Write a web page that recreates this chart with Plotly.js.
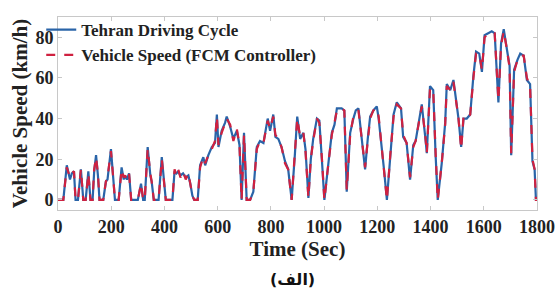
<!DOCTYPE html>
<html>
<head>
<meta charset="utf-8">
<script src="https://cdn.plot.ly/plotly-3.0.1.min.js"></script>
<style>html,body{margin:0;padding:0;background:#fff;}#chart{width:558px;height:294px;}</style>
</head>
<body>
<div id="chart"></div>
<script>
// Time (s)
var timeSec = [0,20,33,45,52,60,66,75,86,95,104,114,122,130,136,143,150,156,170,180,186,199,208,214,228,239,247,252,259,267,275,300,312,320,326,337,347,352,360,378,390,398,405,430,438,445,452,460,470,480,490,497,505,512,525,534,546,553,565,578,590,597,603,615,628,634,647,659,672,682,690,699,709,722,734,747,759,772,788,797,809,817,828,840,853,865,878,890,899,910,922,930,941,950,959,973,982,992,1001,1017,1029,1039,1048,1066,1076,1085,1098,1110,1119,1129,1141,1154,1164,1173,1185,1198,1205,1211,1225,1236,1248,1261,1273,1289,1297,1310,1323,1335,1344,1355,1367,1380,1386,1398,1410,1419,1427,1442,1455,1461,1474,1486,1499,1505,1515,1524,1536,1549,1561,1571,1583,1593,1603,1618,1630,1641,1649,1655,1665,1675,1687,1697,1703,1714,1727,1737,1750,1762,1774,1783,1791,1796,1800];
// Tehran driving cycle speed (km/h)
var tehranSpeed = [0,0,17,10,13,14,0,0,15,0,0,14,0,0,14,22,12,0,0,9,10,25,10,0,0,16,10,12,10,13,0,0,8,0,0,26,12,9,0,0,21,8,0,0,14,13,14,12,13,11,12,8,2,0,0,17,21,17,22,26,28,42,26,34,38,41,36,30,34,27,0,33,0,0,4,26,29,28,40,34,42,31,30,26,19,15,0,22,41,30,33,25,1,20,30,40,39,19,0,19,33,37,45,45,44,4,33,40,44,45,30,15,30,41,44,46,40,33,15,0,22,42,48,45,31,28,10,27,29,38,47,31,23,56,54,22,0,18,38,57,54,59,45,40,26,40,40,42,61,73,72,63,81,82,83,82,62,48,77,84,74,66,22,64,69,72,71,59,57,19,15,0,0];
// Vehicle speed with FCM controller (km/h)
var fcmSpeed = [0,0,16,11,13,14,0,0,15,0,0,13,0,0,15,21,13,0,0,9,11,24,10,0,0,15,11,12,10,13,0,0,8,0,0,25,13,9,0,0,20,8,0,0,15,12,15,11,14,10,13,8,2,0,0,16,21,18,22,25,29,41,27,33,38,40,37,29,35,27,0,32,0,0,4,25,29,28,39,35,41,32,30,26,18,15,0,21,40,31,33,24,1,20,29,40,38,20,0,19,32,38,44,45,44,5,32,41,43,44,31,16,29,40,44,45,41,33,16,0,21,41,47,45,32,28,11,26,29,37,46,32,23,55,54,23,0,18,37,56,54,58,46,40,25,41,40,42,60,72,72,64,80,82,82,82,63,49,76,83,74,65,23,63,69,71,71,60,56,20,15,0,0];

var serif = "Liberation Serif, 'Times New Roman', Times, serif";

var traces = [
  {x: timeSec, y: tehranSpeed, type: 'scatter', mode: 'lines', name: 'Tehran Driving Cycle',
   line: {color: '#2a64a8', width: 2.2}},
  {x: timeSec, y: fcmSpeed, type: 'scatter', mode: 'lines', name: 'Vehicle Speed (FCM Controller)',
   line: {color: '#cf2140', width: 2.2, dash: 'dash'}}
];

var layout = {
  width: 558, height: 294,
  margin: {l: 58, r: 21, t: 13, b: 84},
  paper_bgcolor: '#ffffff', plot_bgcolor: '#ffffff',
  showlegend: true,
  legend: {x: -0.035, y: 1.025, xanchor: 'left', yanchor: 'top', bgcolor: 'rgba(0,0,0,0)',
           font: {family: serif, size: 17, color: '#222', weight: 'bold'},
           itemwidth: 30, tracegroupgap: 0},
  xaxis: {
    range: [0, 1800], tickvals: [0,200,400,600,800,1000,1200,1400,1600,1800],
    showgrid: false, zeroline: false, showline: true, linecolor: '#c8c8c8', linewidth: 1,
    mirror: 'ticks', ticks: 'inside', ticklen: 4, tickcolor: '#c8c8c8',
    tickfont: {family: serif, size: 18, color: '#222', weight: 'bold'},
    title: {text: 'Time (Sec)', font: {family: serif, size: 21, color: '#222', weight: 'bold'}, standoff: 2}
  },
  yaxis: {
    range: [-5, 90], tickvals: [0,20,40,60,80],
    showgrid: false, zeroline: false, showline: true, linecolor: '#c8c8c8', linewidth: 1,
    mirror: 'ticks', ticks: 'inside', ticklen: 4, tickcolor: '#c8c8c8',
    tickfont: {family: serif, size: 18, color: '#222', weight: 'bold'},
    title: {text: 'Vehicle Speed (km/h)', font: {family: serif, size: 21, color: '#222', weight: 'bold'}, standoff: 2}
  },
  annotations: [
    {text: '(الف)', xref: 'paper', yref: 'paper', x: 0.49, y: -0.36, xanchor: 'center', yanchor: 'middle',
     showarrow: false, font: {family: "DejaVu Sans, 'Noto Sans', sans-serif", size: 16, color: '#111', weight: 'bold'}}
  ]
};

Plotly.newPlot('chart', traces, layout, {displayModeBar: false, staticPlot: true});
</script>
</body>
</html>
